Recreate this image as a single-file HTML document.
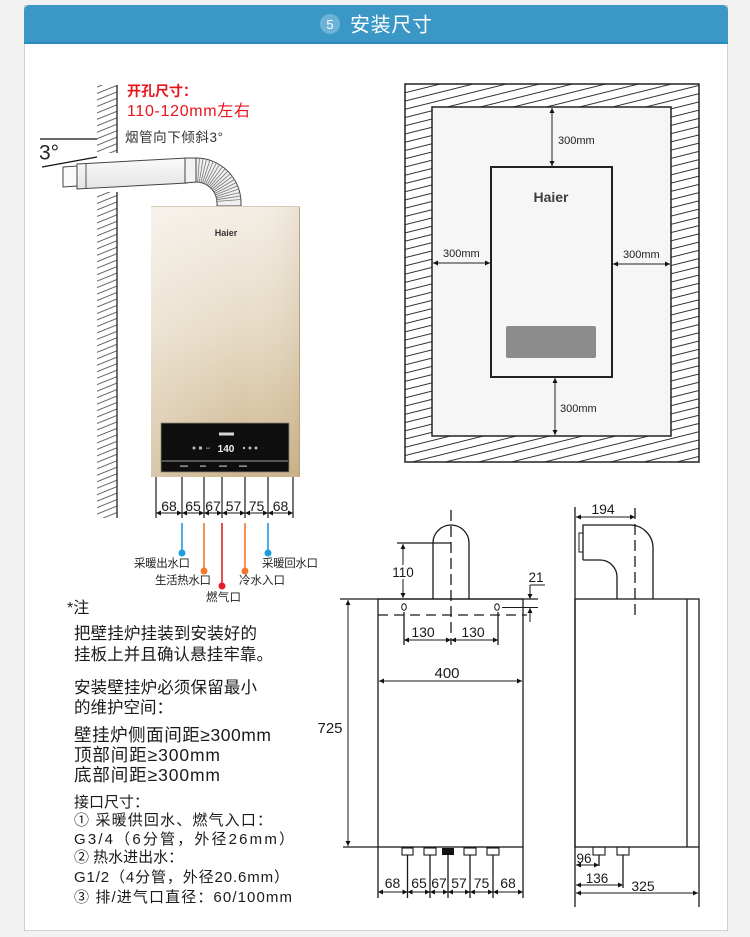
<!DOCTYPE html>
<html><head><meta charset="utf-8"><style>
html,body{margin:0;padding:0;background:#f2f2f2;}
svg{display:block;}
text{font-family:"Liberation Sans","Noto Sans CJK SC",sans-serif;}
</style></head><body>
<svg width="750" height="937" viewBox="0 0 750 937" xmlns="http://www.w3.org/2000/svg">
<defs>
<pattern id="hatch" patternUnits="userSpaceOnUse" width="10" height="8" patternTransform="rotate(-14)">
<line x1="-1" y1="4" x2="11" y2="4" stroke="#333" stroke-width="1"/>
</pattern>
<pattern id="wall" patternUnits="userSpaceOnUse" width="10" height="6" patternTransform="rotate(-22)">
<line x1="-1" y1="3" x2="11" y2="3" stroke="#555" stroke-width="0.9"/>
</pattern>
<linearGradient id="gold" x1="0" y1="0" x2="0" y2="1">
<stop offset="0" stop-color="#f4efe6"/>
<stop offset="0.45" stop-color="#e7dbc6"/>
<stop offset="1" stop-color="#cdb58e"/>
</linearGradient>
<linearGradient id="goldh" x1="0" y1="0" x2="1" y2="0">
<stop offset="0" stop-color="#ffffff" stop-opacity="0.25"/>
<stop offset="0.6" stop-color="#ffffff" stop-opacity="0"/>
<stop offset="1" stop-color="#a08050" stop-opacity="0.12"/>
</linearGradient>
<linearGradient id="pipe" x1="0" y1="0" x2="0" y2="1">
<stop offset="0" stop-color="#fbfbfb"/>
<stop offset="1" stop-color="#e4e4e4"/>
</linearGradient>
<marker id="ar" viewBox="0 0 10 10" refX="10" refY="5" markerWidth="6" markerHeight="5" orient="auto-start-reverse" markerUnits="userSpaceOnUse"><path d="M0,0 L10,5 L0,10 Z" fill="#111"/></marker>
</defs>

<!-- card -->
<rect x="24.5" y="5.5" width="703" height="925" fill="#ffffff" stroke="#d2d2d2" stroke-width="1"/>
<path d="M24,43 L24,11 Q24,5 30,5 L722,5 Q728,5 728,11 L728,43 Z" fill="#3a97c6"/>
<rect x="24" y="42" width="704" height="2" fill="#2c88ba"/>
<circle cx="330" cy="24" r="10" fill="#6cb3da"/>
<text x="330" y="29" font-size="13" fill="#fff" text-anchor="middle">5</text>
<text x="350" y="31.5" font-size="20" fill="#fff" textLength="82">安装尺寸</text>

<!-- ===== left: wall + pipe + heater ===== -->
<rect x="97" y="85" width="20" height="68" fill="url(#wall)"/>
<rect x="97" y="192" width="20" height="326" fill="url(#wall)"/>
<line x1="117" y1="85" x2="117" y2="153" stroke="#222" stroke-width="1.3"/>
<line x1="117" y1="192" x2="117" y2="518" stroke="#222" stroke-width="1.3"/>

<line x1="40" y1="139" x2="97" y2="139" stroke="#111" stroke-width="1.3"/>
<line x1="42" y1="167" x2="97" y2="157" stroke="#111" stroke-width="1.3"/>
<text x="39" y="159.5" font-size="21" fill="#222">3°</text>

<text x="127" y="96" font-size="14" font-weight="bold" fill="#e8141b">开孔尺寸：</text>
<text x="127" y="116" font-size="16" fill="#e8141b" textLength="123">110-120mm左右</text>
<text x="125" y="142" font-size="13.5" fill="#333" textLength="98">烟管向下倾斜3°</text>

<!-- pipe -->
<polygon points="63,167 77,166 77,186 63,187" fill="#fafafa" stroke="#444" stroke-width="1"/>
<polygon points="77,164 187,158 187,183 77,189" fill="url(#pipe)" stroke="#444" stroke-width="1"/>
<line x1="86" y1="163.5" x2="86" y2="188.5" stroke="#555" stroke-width="1"/>
<polygon points="185,158 196,158 196,182 185,183" fill="#f2f2f2" stroke="#444" stroke-width="1"/>
<path d="M196,158 A45,45 0 0 1 241,203 L241,206 L217,206 L217,203 A21,21 0 0 0 196,182 Z" fill="#f0f0f0" stroke="#444" stroke-width="1"/>
<g stroke="#777" stroke-width="0.8">
<line x1="197.6" y1="182.1" x2="199.5" y2="158.1"/>
<line x1="199.3" y1="182.3" x2="203.0" y2="158.5"/>
<line x1="200.9" y1="182.6" x2="206.5" y2="159.2"/>
<line x1="202.5" y1="183.0" x2="209.9" y2="160.2"/>
<line x1="204.0" y1="183.6" x2="213.2" y2="161.4"/>
<line x1="205.5" y1="184.3" x2="216.4" y2="162.9"/>
<line x1="207.0" y1="185.1" x2="219.5" y2="164.6"/>
<line x1="208.3" y1="186.0" x2="222.5" y2="166.6"/>
<line x1="209.6" y1="187.0" x2="225.2" y2="168.8"/>
<line x1="210.8" y1="188.2" x2="227.8" y2="171.2"/>
<line x1="212.0" y1="189.4" x2="230.2" y2="173.8"/>
<line x1="213.0" y1="190.7" x2="232.4" y2="176.5"/>
<line x1="213.9" y1="192.0" x2="234.4" y2="179.5"/>
<line x1="214.7" y1="193.5" x2="236.1" y2="182.6"/>
<line x1="215.4" y1="195.0" x2="237.6" y2="185.8"/>
<line x1="216.0" y1="196.5" x2="238.8" y2="189.1"/>
<line x1="216.4" y1="198.1" x2="239.8" y2="192.5"/>
<line x1="216.7" y1="199.7" x2="240.5" y2="196.0"/>
<line x1="216.9" y1="201.4" x2="240.9" y2="199.5"/>
</g>

<!-- heater -->
<rect x="151" y="206" width="149" height="271" fill="url(#gold)"/>
<rect x="151" y="206" width="149" height="271" fill="url(#goldh)"/>
<line x1="299.5" y1="206" x2="299.5" y2="477" stroke="#b9a27c" stroke-width="1"/>
<line x1="151" y1="206.5" x2="300" y2="206.5" stroke="#d8cbb5" stroke-width="1"/>
<text x="226" y="236" font-size="9" font-weight="bold" fill="#333" text-anchor="middle">Haier</text>
<rect x="161" y="423" width="128" height="49" fill="#0e0e0e" stroke="#8f8576" stroke-width="0.8"/>
<line x1="162" y1="461" x2="288" y2="461" stroke="#cfcfcf" stroke-width="0.7"/>
<rect x="219" y="432.5" width="15" height="3" fill="#d8d8d8"/>
<text x="226" y="452" font-size="10" font-weight="bold" fill="#f2f2f2" text-anchor="middle">140</text>
<g fill="#bbb">
<circle cx="194" cy="448" r="1.5"/><rect x="199" y="446.5" width="3" height="3"/><rect x="206" y="447.7" width="4" height="0.8"/>
<circle cx="244" cy="448" r="1.2"/><circle cx="250" cy="448" r="1.5"/><circle cx="256" cy="448" r="1.5"/>
<rect x="180" y="465.5" width="8" height="1.2"/><rect x="200" y="465.5" width="6" height="1.2"/><rect x="219" y="465.5" width="8" height="1.2"/><rect x="239" y="465.5" width="8" height="1.2"/>
</g>

<!-- bottom dims -->
<g stroke="#1a1a1a" stroke-width="1.2">
<line x1="156" y1="477" x2="156" y2="518"/>
<line x1="182" y1="477" x2="182" y2="518"/>
<line x1="204" y1="477" x2="204" y2="518"/>
<line x1="222" y1="477" x2="222" y2="518"/>
<line x1="245" y1="477" x2="245" y2="518"/>
<line x1="268" y1="477" x2="268" y2="518"/>
<line x1="293" y1="477" x2="293" y2="518"/>
</g>
<g stroke="#1a1a1a" stroke-width="0.9" marker-start="url(#ar)" marker-end="url(#ar)">
<line x1="156" y1="513" x2="182" y2="513"/>
<line x1="182" y1="513" x2="204" y2="513"/>
<line x1="204" y1="513" x2="222" y2="513"/>
<line x1="222" y1="513" x2="245" y2="513"/>
<line x1="245" y1="513" x2="268" y2="513"/>
<line x1="268" y1="513" x2="293" y2="513"/>
</g>
<g font-size="14" fill="#1a1a1a" text-anchor="middle">
<text x="169" y="511">68</text><text x="193" y="511">65</text><text x="213" y="511">67</text>
<text x="233.5" y="511">57</text><text x="256.5" y="511">75</text><text x="280.5" y="511">68</text>
</g>
<g stroke-width="1.6">
<line x1="182" y1="523" x2="182" y2="553" stroke="#1c9ce2"/>
<line x1="204" y1="523" x2="204" y2="571" stroke="#f07a2a"/>
<line x1="222" y1="523" x2="222" y2="586" stroke="#e41f2a"/>
<line x1="245" y1="523" x2="245" y2="571" stroke="#f07a2a"/>
<line x1="268" y1="523" x2="268" y2="553" stroke="#1c9ce2"/>
</g>
<circle cx="182" cy="553" r="3.5" fill="#1c9ce2"/>
<circle cx="204" cy="571" r="3.5" fill="#f07a2a"/>
<circle cx="222" cy="586" r="3.5" fill="#e41f2a"/>
<circle cx="245" cy="571" r="3.5" fill="#f07a2a"/>
<circle cx="268" cy="553" r="3.5" fill="#1c9ce2"/>
<g font-size="11.5" fill="#222">
<text x="134" y="567" textLength="56">采暖出水口</text>
<text x="155" y="584" textLength="56">生活热水口</text>
<text x="206" y="601" textLength="35">燃气口</text>
<text x="239" y="584" textLength="46">冷水入口</text>
<text x="262" y="567" textLength="56">采暖回水口</text>
</g>

<!-- ===== clearance diagram ===== -->
<rect x="405" y="84" width="294" height="378" fill="url(#hatch)" stroke="#222" stroke-width="1.5"/>
<rect x="432" y="107" width="239" height="329" fill="#f6f6f6" stroke="#222" stroke-width="1.5"/>
<rect x="491" y="167" width="121" height="210" fill="#f6f6f6" stroke="#222" stroke-width="2"/>
<rect x="506" y="326" width="90" height="32" rx="2" fill="#8c8c8c"/>
<text x="551" y="202" font-size="14" font-weight="bold" fill="#3d3d3d" text-anchor="middle">Haier</text>
<g stroke="#222" stroke-width="1" marker-start="url(#ar)" marker-end="url(#ar)">
<line x1="552" y1="108" x2="552" y2="166"/>
<line x1="555" y1="378" x2="555" y2="435"/>
<line x1="433" y1="263" x2="490" y2="263"/>
<line x1="613" y1="264" x2="670" y2="264"/>
</g>
<g font-size="11" fill="#222">
<text x="558" y="144">300mm</text>
<text x="443" y="257">300mm</text>
<text x="623" y="258">300mm</text>
<text x="560" y="412">300mm</text>
</g>

<!-- ===== notes ===== -->
<g fill="#1a1a1a">
<text x="67" y="613" font-size="16">*注</text>
<text x="74" y="639" font-size="16.5" textLength="183">把壁挂炉挂装到安装好的</text>
<text x="74" y="660" font-size="16.5" textLength="199">挂板上并且确认悬挂牢靠。</text>
<text x="74" y="693" font-size="16.5" textLength="183">安装壁挂炉必须保留最小</text>
<text x="74" y="713" font-size="16.5">的维护空间：</text>
<text x="74" y="741" font-size="17.5" textLength="197">壁挂炉侧面间距≥300mm</text>
<text x="74" y="761" font-size="17.5" textLength="146">顶部间距≥300mm</text>
<text x="74" y="781" font-size="17.5" textLength="146">底部间距≥300mm</text>
<text x="74" y="807" font-size="15">接口尺寸：</text>
<text x="74" y="825" font-size="15" textLength="198">① 采暖供回水、燃气入口：</text>
<text x="74" y="844" font-size="15" textLength="220">G3/4（6分管，外径26mm）</text>
<text x="74" y="862" font-size="15">② 热水进出水：</text>
<text x="74" y="882" font-size="15" textLength="215">G1/2（4分管，外径20.6mm）</text>
<text x="74" y="902" font-size="15" textLength="218">③ 排/进气口直径：60/100mm</text>
</g>

<!-- ===== front technical drawing ===== -->
<g stroke="#1a1a1a" stroke-width="1.3" fill="none">
<rect x="378" y="599" width="145" height="248"/>
<line x1="340" y1="599" x2="538" y2="599"/>
<line x1="343" y1="847" x2="378" y2="847"/>
<line x1="378" y1="847" x2="378" y2="898"/>
<line x1="523" y1="847" x2="523" y2="898"/>
<path d="M433,599 L433,543 A18,18 0 0 1 469,543 L469,599"/>
<line x1="397" y1="543" x2="451" y2="543"/>
<line x1="378" y1="615" x2="527" y2="615" stroke-dasharray="10,6"/>
<line x1="451" y1="510" x2="451" y2="645" stroke-dasharray="11,5"/>
<ellipse cx="404" cy="607" rx="2.3" ry="3.3" stroke-width="1"/>
<ellipse cx="497" cy="607" rx="2.3" ry="3.3" stroke-width="1"/>
<line x1="404" y1="612" x2="404" y2="645"/>
<line x1="498" y1="612" x2="498" y2="645"/>
<line x1="502" y1="607.5" x2="538" y2="607.5" stroke-width="1"/>
<line x1="530" y1="585" x2="545" y2="585" stroke-width="1"/>
<rect x="402" y="848" width="11" height="7" stroke-width="1.1"/>
<rect x="424" y="848" width="12" height="7" stroke-width="1.1"/>
<rect x="464" y="848" width="12" height="7" stroke-width="1.1"/>
<rect x="487" y="848" width="12" height="7" stroke-width="1.1"/>
<line x1="407.5" y1="855" x2="407.5" y2="898"/>
<line x1="430" y1="855" x2="430" y2="898"/>
<line x1="448" y1="855" x2="448" y2="898"/>
<line x1="470" y1="855" x2="470" y2="898"/>
<line x1="493" y1="855" x2="493" y2="898"/>
</g>
<rect x="442" y="848" width="12" height="7" fill="#111"/>
<g stroke="#1a1a1a" stroke-width="1" marker-start="url(#ar)" marker-end="url(#ar)">
<line x1="403" y1="544" x2="403" y2="598"/>
<line x1="404" y1="640" x2="451" y2="640"/>
<line x1="451" y1="640" x2="498" y2="640"/>
<line x1="379" y1="681" x2="522" y2="681"/>
<line x1="348" y1="600" x2="348" y2="846"/>
<line x1="378" y1="892" x2="407.5" y2="892"/>
<line x1="407.5" y1="892" x2="430" y2="892"/>
<line x1="430" y1="892" x2="448" y2="892"/>
<line x1="448" y1="892" x2="470" y2="892"/>
<line x1="470" y1="892" x2="493" y2="892"/>
<line x1="493" y1="892" x2="523" y2="892"/>
</g>
<g stroke="#1a1a1a" stroke-width="1" marker-end="url(#ar)">
<line x1="530" y1="585" x2="530" y2="599"/>
<line x1="530" y1="622" x2="530" y2="608"/>
</g>
<rect x="392" y="565" width="22" height="14" fill="#fff"/>
<g fill="#1a1a1a" text-anchor="middle">
<text x="403" y="577" font-size="13.5">110</text>
<text x="536" y="582" font-size="13.5">21</text>
<text x="423" y="637" font-size="14">130</text>
<text x="473" y="637" font-size="14">130</text>
<text x="447" y="678" font-size="15">400</text>
<text x="330" y="733" font-size="15">725</text>
<text x="392.5" y="888" font-size="14">68</text>
<text x="419" y="888" font-size="14">65</text>
<text x="439" y="888" font-size="14">67</text>
<text x="459" y="888" font-size="14">57</text>
<text x="481.5" y="888" font-size="14">75</text>
<text x="508" y="888" font-size="14">68</text>
</g>

<!-- ===== side technical drawing ===== -->
<g stroke="#1a1a1a" stroke-width="1.3" fill="none">
<line x1="575" y1="507" x2="575" y2="907"/>
<rect x="575" y="599" width="124" height="248"/>
<line x1="687" y1="599" x2="687" y2="847"/>
<line x1="699" y1="847" x2="699" y2="907"/>
<path d="M583,560 L583,525 L630,525 A23,23 0 0 1 653,548 L653,599"/>
<path d="M583,560 L600,560 A17,17 0 0 1 617,577 L617,599"/>
<rect x="579" y="533" width="4" height="19" stroke-width="1"/>
<line x1="635" y1="508" x2="635" y2="618" stroke-dasharray="11,5"/>
<rect x="593" y="847" width="12" height="8" stroke-width="1.1"/>
<rect x="617" y="847" width="12" height="8" stroke-width="1.1"/>
<line x1="599" y1="855" x2="599" y2="866"/>
<line x1="623" y1="855" x2="623" y2="888"/>
</g>
<g stroke="#1a1a1a" stroke-width="1" marker-start="url(#ar)" marker-end="url(#ar)">
<line x1="576" y1="517" x2="635" y2="517"/>
<line x1="576" y1="865" x2="599" y2="865"/>
<line x1="576" y1="885" x2="623" y2="885"/>
<line x1="576" y1="893" x2="698" y2="893"/>
</g>
<g fill="#1a1a1a" text-anchor="middle">
<text x="603" y="514" font-size="14">194</text>
<text x="584" y="863" font-size="13.5">96</text>
<text x="597" y="883" font-size="13.5">136</text>
<text x="643" y="891" font-size="14">325</text>
</g>
</svg>
</body></html>
